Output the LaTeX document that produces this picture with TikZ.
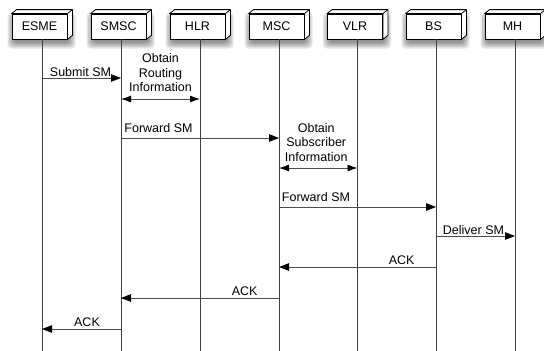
\documentclass[tikz,border=0pt]{standalone}
\usepackage{fontspec}
\setmainfont{Liberation Sans}
\usetikzlibrary{arrows.meta}
\tikzset{
  txt/.style={font=\fontsize{12.5}{14.5}\selectfont},
  actorbox/.style={txt, draw=black, line width=0.8pt, fill=white, minimum width=55pt, minimum height=25pt, inner sep=0pt},
  sidebox/.style={draw=black, line width=0.8pt, fill=white, line join=round},
  life/.style={draw=black!75, line width=0.9pt},
  msg/.style={draw=black!70, line width=0.9pt, -{Triangle[length=10pt,width=7.5pt,fill=black,color=black]}},
  both/.style={draw=black!70, line width=0.9pt, {Latex[length=10pt,width=7pt,color=black]}-{Latex[length=10pt,width=7pt,color=black]}},
  lbl/.style={txt, inner sep=0pt, align=center},
}
\newcommand\myactor[3]{%
  \coordinate (#1C) at (#2-2.5,26.5);
  \foreach \s in {0,1.5,3,4.5,6}
    \fill[black,opacity=0.1,rounded corners=4pt] ([shift={(-26-\s,-8-\s)}]#1C) rectangle ([shift={(30+\s,16+\s)}]#1C);
  \node[actorbox] (#1) at (#1C) {#3};
  \filldraw[sidebox] (#1.north west) -- ++(5,-4) -- ([shift={(5,-4)}]#1.north east) -- ([shift={(5,-4)}]#1.south east) -- (#1.south east) -- (#1.north east) -- cycle;
  \draw[sidebox] (#1.north east) -- ++(5,-4);
  \node[actorbox] at (#1C) {#3};
  \coordinate (#1L) at (#2,39);
  \draw[life] (#1L) -- (#1L |- bot);
}
\begin{document}
\begin{tikzpicture}[x=1pt,y=-1pt]
\useasboundingbox[fill=white] (0,0) rectangle (544,351);
\coordinate (bot) at (0,351);
\myactor{esme}{42}{ESME}
\myactor{smsc}{121}{SMSC}
\myactor{hlr}{200}{HLR}
\myactor{msc}{279}{MSC}
\myactor{vlr}{357.5}{VLR}
\myactor{bs}{436}{BS}
\myactor{mh}{515}{MH}

\draw[msg] (esmeL |- 0,78) -- node[lbl, anchor=base, yshift=1.5pt, xshift=-1pt] {Submit SM} (smscL |- 0,78);
\draw[both] (smscL |- 0,99) -- node[lbl, anchor=south, yshift=6.5pt] {Obtain\\Routing\\Information} (hlrL |- 0,99);
\draw[msg] (smscL |- 0,138) -- (mscL |- 0,138) node[lbl, pos=0, anchor=base west, xshift=3pt, yshift=6pt] {Forward SM};
\draw[both] (mscL |- 0,168) -- node[lbl, anchor=south, yshift=6pt, xshift=-2pt] {Obtain\\Subscriber\\Information} (vlrL |- 0,168);
\draw[msg] (mscL |- 0,207) -- (bsL |- 0,207) node[lbl, pos=0, anchor=base west, xshift=2.5pt, yshift=6pt] {Forward SM};
\draw[msg] (bsL |- 0,236) -- node[lbl, anchor=base, yshift=1.5pt, xshift=-2pt] {Deliver SM} (mhL |- 0,236);
\draw[msg] (bsL |- 0,267) -- (mscL |- 0,267) node[lbl, pos=0, anchor=base east, xshift=-21pt, yshift=2.5pt] {ACK};
\draw[msg] (mscL |- 0,298) -- (smscL |- 0,298) node[lbl, pos=0, anchor=base east, xshift=-21pt, yshift=3pt] {ACK};
\draw[msg] (smscL |- 0,329) -- node[lbl, anchor=base, yshift=3pt, xshift=5.5pt] {ACK} (esmeL |- 0,329);
\end{tikzpicture}
\end{document}
